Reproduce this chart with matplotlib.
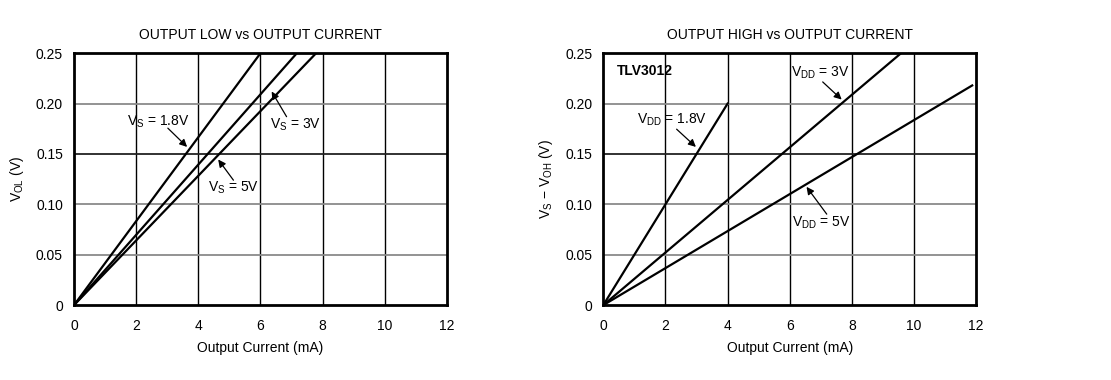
import matplotlib.pyplot as plt
from matplotlib.ticker import FixedLocator, FixedFormatter

plt.rcParams['font.family'] = ['Liberation Sans', 'DejaVu Sans']
plt.rcParams['mathtext.fontset'] = 'custom'
plt.rcParams['mathtext.rm'] = 'Liberation Sans'

# output current (mA) vs voltage drop (V)
vol_18_x = [0, 6.0]
vol_18_y = [0, 0.25]
vol_3_x = [0, 7.17]
vol_3_y = [0, 0.25]
vol_5_x = [0, 7.79]
vol_5_y = [0, 0.25]

voh_18_x = [0, 4.0]
voh_18_y = [0, 0.20]
voh_3_x = [0, 9.58]
voh_3_y = [0, 0.25]
voh_5_x = [0, 11.87]
voh_5_y = [0, 0.218]

x_ticks = [0, 2, 4, 6, 8, 10, 12]
y_ticks = [0, 0.05, 0.10, 0.15, 0.20, 0.25]
y_tick_labels = ['0', '0.05', '0.10', '0.15', '0.20', '0.25']

fig = plt.figure(figsize=(11.11, 3.8), dpi=100)
ax1 = fig.add_axes([0.0666, 0.197, 0.3357, 0.663])
ax2 = fig.add_axes([0.543, 0.197, 0.3357, 0.663])

FS = 10


def setup(ax, title, ylabel):
    ax.set_xlim(0, 12)
    ax.set_ylim(0, 0.25)
    ax.xaxis.set_major_locator(FixedLocator(x_ticks))
    ax.yaxis.set_major_locator(FixedLocator(y_ticks))
    ax.yaxis.set_major_formatter(FixedFormatter(y_tick_labels))
    ax.tick_params(length=0, labelsize=FS)
    ax.tick_params(axis='x', pad=10)
    ax.tick_params(axis='y', pad=8)
    for x in x_ticks[1:-1]:
        ax.axvline(x, color='black', lw=1.0, zorder=1)
    for y, c in zip(y_ticks[1:-1], ['#8a8a8a', '#8a8a8a', '#222222', '#8a8a8a']):
        ax.axhline(y, color=c, lw=1.3, zorder=1)
    for s in ax.spines.values():
        s.set_linewidth(2.0)
    ax.set_title(title, fontsize=FS, pad=10)
    ax.set_xlabel('Output Current (mA)', fontsize=FS, labelpad=6)
    ax.set_ylabel(ylabel, fontsize=FS, labelpad=7)


def note(ax, text, xy, xytext, tx, ty):
    ax.annotate('', xy=xy, xytext=xytext,
                arrowprops=dict(arrowstyle='-|>', color='black', lw=0.9,
                                mutation_scale=11, shrinkA=0, shrinkB=0))
    ax.text(tx, ty, text, fontsize=FS, va='center', ha='left')


setup(ax1, 'OUTPUT LOW vs OUTPUT CURRENT', r'V$_\mathregular{OL}$ (V)')
ax1.plot(vol_18_x, vol_18_y, color='black', lw=1.6, zorder=3)
ax1.plot(vol_3_x, vol_3_y, color='black', lw=1.6, zorder=3)
ax1.plot(vol_5_x, vol_5_y, color='black', lw=1.6, zorder=3)
note(ax1, r'V$_\mathregular{S}$ = 1.8V', (3.64, 0.157), (3.02, 0.1756), 1.7, 0.1815)
note(ax1, r'V$_\mathregular{S}$ = 3V', (6.36, 0.212), (6.84, 0.187), 6.3, 0.179)
note(ax1, r'V$_\mathregular{S}$ = 5V', (4.64, 0.1445), (5.13, 0.124), 4.3, 0.116)

setup(ax2, 'OUTPUT HIGH vs OUTPUT CURRENT',
      r'V$_\mathregular{S}$ $-$ V$_\mathregular{OH}$ (V)')
ax2.plot(voh_18_x, voh_18_y, color='black', lw=1.6, zorder=3)
ax2.plot(voh_3_x, voh_3_y, color='black', lw=1.6, zorder=3)
ax2.plot(voh_5_x, voh_5_y, color='black', lw=1.6, zorder=3)
ax2.text(0.44, 0.2325, 'TLV3012', fontsize=FS, fontweight='bold', va='center')
note(ax2, r'V$_\mathregular{DD}$ = 1.8V', (2.98, 0.157), (2.36, 0.1746), 1.07, 0.1835)
note(ax2, r'V$_\mathregular{DD}$ = 3V', (7.67, 0.204), (7.06, 0.2215), 6.03, 0.2305)
note(ax2, r'V$_\mathregular{DD}$ = 5V', (6.54, 0.1174), (7.19, 0.0903), 6.06, 0.082)

fig.savefig('out.png', dpi=100)
